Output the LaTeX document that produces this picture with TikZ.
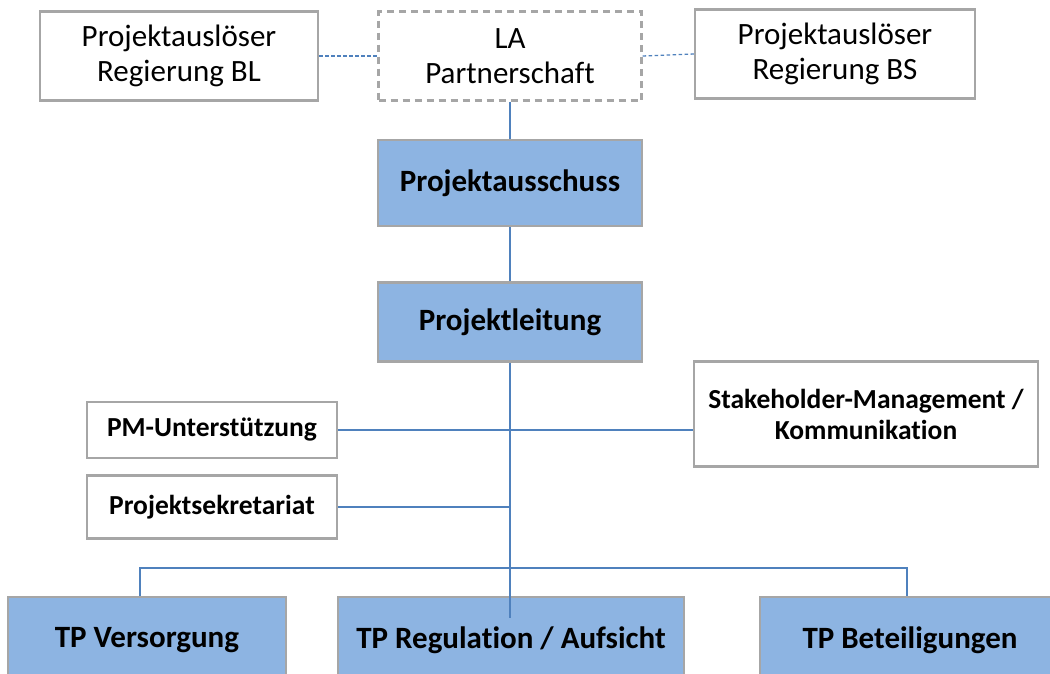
\documentclass[tikz,border=0pt]{standalone}
\usepackage{fontspec}
\setmainfont{Carlito}[Ligatures=NoCommon]
\definecolor{boxfill}{HTML}{8DB4E2}
\definecolor{boxline}{HTML}{A6A6A6}
\definecolor{conncol}{HTML}{4F81BD}
\tikzset{
  base/.style={draw=boxline, line width=2.4pt, align=center, inner sep=2pt, anchor=center},
  topbox/.style={base, fill=white, font=\fontsize{31}{35}\selectfont},
  dashbox/.style={topbox, dash pattern=on 7pt off 5pt},
  bluebox/.style={base, fill=boxfill, font=\fontsize{31}{35}\selectfont\bfseries},
  sidebox/.style={base, fill=white, font=\fontsize{27.5}{31}\selectfont\bfseries},
  conn/.style={draw=conncol, line width=1.3pt},
  dconn/.style={conn, dash pattern=on 3.5pt off 2.5pt},
}
\begin{document}
\begin{tikzpicture}[x=1pt,y=-1pt]
\useasboundingbox (0,0) rectangle (1050,673);
\clip (0,0) rectangle (1050,673);
\fill[white] (0,0) rectangle (1050,673);
% top row
\node[topbox, minimum width=278pt, minimum height=89pt] (bl) at (179,56) {Projektauslöser\\Regierung BL};
\node[dashbox, minimum width=263pt, minimum height=89pt] (la) at (510,56) {LA\\Partnerschaft};
\node[topbox, minimum width=280pt, minimum height=89pt] (bs) at (835,54) {Projektauslöser\\Regierung BS};
% main column
\node[bluebox, minimum width=264pt, minimum height=86pt] (pa) at (510,183) {Projektausschuss};
\node[bluebox, minimum width=264pt, minimum height=79pt] (pl) at (510,322) {Projektleitung};
% side boxes
\node[sidebox, minimum width=250pt, minimum height=56pt] (pm) at (212,430) {PM-Unterstützung};
\node[sidebox, minimum width=344pt, minimum height=105pt] (sh) at (866,414) {Stakeholder-Management /\\Kommunikation};
\node[sidebox, minimum width=250pt, minimum height=63pt] (ps) at (212,507) {Projektsekretariat};
% bottom row
\node[bluebox, minimum width=278pt, minimum height=86pt] (tpv) at (147,640) {TP Versorgung};
\node[bluebox, minimum width=346pt, minimum height=86pt] (tpr) at (511,640) {TP Regulation / Aufsicht};
\node[bluebox, minimum width=300pt, minimum height=86pt] (tpb) at (910,640) {TP Beteiligungen};
% connectors
\draw[dconn] (bl.east) -- (la.west);
\draw[dconn] (la.east) -- (bs.west);
\draw[conn] (la.south) -- (pa.north);
\draw[conn] (pa.south) -- (pl.north);
\coordinate (tail) at (510,618);
\coordinate (bar) at (510,568);
\draw[conn] (pl.south) -- (tail);
\draw[conn] (pm.east) -- (pm.east -| sh.west);
\draw[conn] (ps.east) -- (ps.east -| bar);
\draw[conn] (tpv.north -| 140,0) |- (bar) -| (tpb.north -| 907,0);
\end{tikzpicture}
\end{document}
